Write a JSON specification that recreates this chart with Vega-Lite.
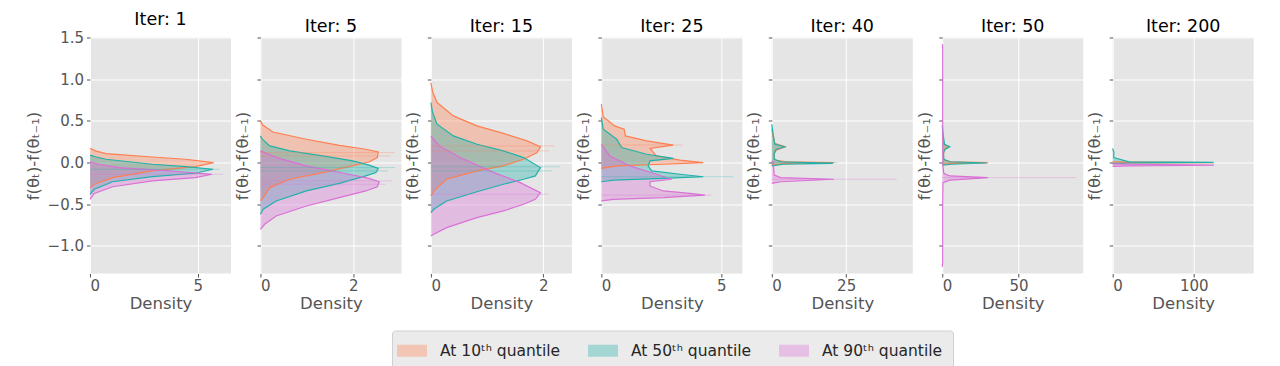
{
  "$schema": "https://vega.github.io/schema/vega-lite/v6.json",
  "padding": {"left": 25, "top": 10.5, "right": 5, "bottom": 0},
  "bounds": "flush",
  "spacing": 29.45,
  "resolve": {"scale": {"x": "independent", "y": "independent", "color": "shared"}},
  "config": {
    "font": "DejaVu Sans",
    "view": {"fill": "#E5E5E5", "stroke": null},
    "axis": {"domain": false, "gridColor": "#FFFFFF", "gridWidth": 1, "tickColor": "#555555", "tickSize": 3.5, "labelColor": "#555555", "labelFontSize": 15, "titleColor": "#555555", "titleFontWeight": "normal", "titleFontSize": 16.5, "labelPadding": 3},
    "axisY": {"titlePadding": 6},
    "axisX": {"titlePadding": 2, "labelPadding": 1.5},
    "title": {"fontSize": 17.5, "fontWeight": "normal", "color": "#000000", "offset": 2},
    "style": {"group-title": {"fontSize": 17.5, "fontWeight": "normal", "fill": "#000000"}},
    "legend": {"direction": "horizontal", "symbolType": "M-1.5,-0.6H1.5V0.6H-1.5Z", "symbolSize": 400, "symbolOpacity": 0.35, "symbolStrokeWidth": 0, "labelFontSize": 15.5, "labelColor": "#262626", "columnPadding": 27, "labelOffset": 18, "padding": 10, "fillColor": "#EBEBEB", "strokeColor": "#D0D0D0", "cornerRadius": 3}
  },
  "datasets": {
    "kde": [
      {"iter":1,"s":"q10","v":-0.30,"d":0},{"iter":1,"s":"q10","v":-0.26,"d":0.2},{"iter":1,"s":"q10","v":-0.18,"d":1.05},{"iter":1,"s":"q10","v":-0.10,"d":2.89},{"iter":1,"s":"q10","v":-0.048,"d":4.89},{"iter":1,"s":"q10","v":0.0,"d":5.74},{"iter":1,"s":"q10","v":0.04,"d":4.43},{"iter":1,"s":"q10","v":0.067,"d":2.89},{"iter":1,"s":"q10","v":0.108,"d":0.74},{"iter":1,"s":"q10","v":0.14,"d":0.25},{"iter":1,"s":"q10","v":0.171,"d":0},
      {"iter":1,"s":"q50","v":-0.38,"d":0},{"iter":1,"s":"q50","v":-0.32,"d":0.2},{"iter":1,"s":"q50","v":-0.23,"d":1.05},{"iter":1,"s":"q50","v":-0.168,"d":2.89},{"iter":1,"s":"q50","v":-0.128,"d":4.89},{"iter":1,"s":"q50","v":-0.08,"d":5.71},{"iter":1,"s":"q50","v":-0.048,"d":4.43},{"iter":1,"s":"q50","v":-0.02,"d":2.89},{"iter":1,"s":"q50","v":0.04,"d":0.74},{"iter":1,"s":"q50","v":0.07,"d":0.25},{"iter":1,"s":"q50","v":0.09,"d":0},
      {"iter":1,"s":"q90","v":-0.44,"d":0},{"iter":1,"s":"q90","v":-0.37,"d":0.2},{"iter":1,"s":"q90","v":-0.29,"d":1.05},{"iter":1,"s":"q90","v":-0.22,"d":2.89},{"iter":1,"s":"q90","v":-0.18,"d":4.89},{"iter":1,"s":"q90","v":-0.14,"d":5.66},{"iter":1,"s":"q90","v":-0.10,"d":3.66},{"iter":1,"s":"q90","v":-0.06,"d":1.35},{"iter":1,"s":"q90","v":-0.02,"d":0.4},{"iter":1,"s":"q90","v":0.01,"d":0},

      {"iter":5,"s":"q10","v":-0.46,"d":0},{"iter":5,"s":"q10","v":-0.42,"d":0.06},{"iter":5,"s":"q10","v":-0.30,"d":0.2},{"iter":5,"s":"q10","v":-0.20,"d":0.63},{"iter":5,"s":"q10","v":-0.12,"d":1.34},{"iter":5,"s":"q10","v":-0.048,"d":1.91},{"iter":5,"s":"q10","v":0.007,"d":2.34},{"iter":5,"s":"q10","v":0.06,"d":2.52},{"iter":5,"s":"q10","v":0.127,"d":2.54},{"iter":5,"s":"q10","v":0.16,"d":2.27},{"iter":5,"s":"q10","v":0.207,"d":1.7},{"iter":5,"s":"q10","v":0.28,"d":0.99},{"iter":5,"s":"q10","v":0.367,"d":0.27},{"iter":5,"s":"q10","v":0.45,"d":0.05},{"iter":5,"s":"q10","v":0.5,"d":0},
      {"iter":5,"s":"q50","v":-0.62,"d":0},{"iter":5,"s":"q50","v":-0.56,"d":0.06},{"iter":5,"s":"q50","v":-0.46,"d":0.34},{"iter":5,"s":"q50","v":-0.34,"d":0.99},{"iter":5,"s":"q50","v":-0.25,"d":1.7},{"iter":5,"s":"q50","v":-0.16,"d":2.27},{"iter":5,"s":"q50","v":-0.12,"d":2.49},{"iter":5,"s":"q50","v":-0.07,"d":2.54},{"iter":5,"s":"q50","v":-0.03,"d":2.34},{"iter":5,"s":"q50","v":0.02,"d":1.99},{"iter":5,"s":"q50","v":0.08,"d":1.34},{"iter":5,"s":"q50","v":0.14,"d":0.63},{"iter":5,"s":"q50","v":0.20,"d":0.2},{"iter":5,"s":"q50","v":0.28,"d":0.04},{"iter":5,"s":"q50","v":0.32,"d":0},
      {"iter":5,"s":"q90","v":-0.80,"d":0},{"iter":5,"s":"q90","v":-0.74,"d":0.09},{"iter":5,"s":"q90","v":-0.64,"d":0.34},{"iter":5,"s":"q90","v":-0.52,"d":0.99},{"iter":5,"s":"q90","v":-0.42,"d":1.7},{"iter":5,"s":"q90","v":-0.34,"d":2.27},{"iter":5,"s":"q90","v":-0.29,"d":2.52},{"iter":5,"s":"q90","v":-0.23,"d":2.56},{"iter":5,"s":"q90","v":-0.19,"d":2.34},{"iter":5,"s":"q90","v":-0.14,"d":1.91},{"iter":5,"s":"q90","v":-0.04,"d":0.99},{"iter":5,"s":"q90","v":0.06,"d":0.35},{"iter":5,"s":"q90","v":0.14,"d":0},

      {"iter":15,"s":"q10","v":-0.40,"d":0},{"iter":15,"s":"q10","v":-0.32,"d":0.08},{"iter":15,"s":"q10","v":-0.20,"d":0.28},{"iter":15,"s":"q10","v":-0.10,"d":0.82},{"iter":15,"s":"q10","v":-0.04,"d":1.29},{"iter":15,"s":"q10","v":0.04,"d":1.65},{"iter":15,"s":"q10","v":0.12,"d":1.89},{"iter":15,"s":"q10","v":0.19,"d":1.95},{"iter":15,"s":"q10","v":0.26,"d":1.71},{"iter":15,"s":"q10","v":0.35,"d":1.29},{"iter":15,"s":"q10","v":0.44,"d":0.82},{"iter":15,"s":"q10","v":0.56,"d":0.4},{"iter":15,"s":"q10","v":0.72,"d":0.11},{"iter":15,"s":"q10","v":0.85,"d":0.03},{"iter":15,"s":"q10","v":0.96,"d":0},
      {"iter":15,"s":"q50","v":-0.60,"d":0},{"iter":15,"s":"q50","v":-0.56,"d":0.05},{"iter":15,"s":"q50","v":-0.46,"d":0.28},{"iter":15,"s":"q50","v":-0.35,"d":0.82},{"iter":15,"s":"q50","v":-0.26,"d":1.29},{"iter":15,"s":"q50","v":-0.20,"d":1.65},{"iter":15,"s":"q50","v":-0.16,"d":1.86},{"iter":15,"s":"q50","v":-0.06,"d":1.95},{"iter":15,"s":"q50","v":0.06,"d":1.65},{"iter":15,"s":"q50","v":0.14,"d":1.29},{"iter":15,"s":"q50","v":0.22,"d":0.82},{"iter":15,"s":"q50","v":0.32,"d":0.4},{"iter":15,"s":"q50","v":0.46,"d":0.11},{"iter":15,"s":"q50","v":0.60,"d":0.03},{"iter":15,"s":"q50","v":0.72,"d":0},
      {"iter":15,"s":"q90","v":-0.88,"d":0},{"iter":15,"s":"q90","v":-0.86,"d":0.05},{"iter":15,"s":"q90","v":-0.78,"d":0.28},{"iter":15,"s":"q90","v":-0.66,"d":0.82},{"iter":15,"s":"q90","v":-0.58,"d":1.29},{"iter":15,"s":"q90","v":-0.50,"d":1.65},{"iter":15,"s":"q90","v":-0.44,"d":1.86},{"iter":15,"s":"q90","v":-0.36,"d":1.95},{"iter":15,"s":"q90","v":-0.24,"d":1.59},{"iter":15,"s":"q90","v":-0.12,"d":1.12},{"iter":15,"s":"q90","v":0.06,"d":0.52},{"iter":15,"s":"q90","v":0.20,"d":0.15},{"iter":15,"s":"q90","v":0.32,"d":0},

      {"iter":25,"s":"q10","v":-0.07,"d":0},{"iter":25,"s":"q10","v":-0.04,"d":0.64},{"iter":25,"s":"q10","v":-0.02,"d":2.58},{"iter":25,"s":"q10","v":0.0,"d":4.25},{"iter":25,"s":"q10","v":0.03,"d":3.28},{"iter":25,"s":"q10","v":0.08,"d":2.3},{"iter":25,"s":"q10","v":0.17,"d":2.03},{"iter":25,"s":"q10","v":0.21,"d":3.0},{"iter":25,"s":"q10","v":0.26,"d":1.89},{"iter":25,"s":"q10","v":0.32,"d":1.0},{"iter":25,"s":"q10","v":0.40,"d":0.95},{"iter":25,"s":"q10","v":0.44,"d":0.55},{"iter":25,"s":"q10","v":0.55,"d":0.08},{"iter":25,"s":"q10","v":0.70,"d":0},
      {"iter":25,"s":"q50","v":-0.23,"d":0},{"iter":25,"s":"q50","v":-0.21,"d":0.5},{"iter":25,"s":"q50","v":-0.19,"d":2.58},{"iter":25,"s":"q50","v":-0.17,"d":4.25},{"iter":25,"s":"q50","v":-0.14,"d":3.28},{"iter":25,"s":"q50","v":-0.10,"d":2.1},{"iter":25,"s":"q50","v":-0.04,"d":1.95},{"iter":25,"s":"q50","v":0.02,"d":2.03},{"iter":25,"s":"q50","v":0.05,"d":3.0},{"iter":25,"s":"q50","v":0.10,"d":1.89},{"iter":25,"s":"q50","v":0.18,"d":0.85},{"iter":25,"s":"q50","v":0.28,"d":0.64},{"iter":25,"s":"q50","v":0.40,"d":0.08},{"iter":25,"s":"q50","v":0.54,"d":0},
      {"iter":25,"s":"q90","v":-0.46,"d":0},{"iter":25,"s":"q90","v":-0.44,"d":0.5},{"iter":25,"s":"q90","v":-0.42,"d":2.58},{"iter":25,"s":"q90","v":-0.39,"d":4.32},{"iter":25,"s":"q90","v":-0.37,"d":3.69},{"iter":25,"s":"q90","v":-0.34,"d":2.58},{"iter":25,"s":"q90","v":-0.28,"d":2.03},{"iter":25,"s":"q90","v":-0.23,"d":2.03},{"iter":25,"s":"q90","v":-0.20,"d":2.93},{"iter":25,"s":"q90","v":-0.14,"d":2.3},{"iter":25,"s":"q90","v":-0.04,"d":1.19},{"iter":25,"s":"q90","v":0.08,"d":0.36},{"iter":25,"s":"q90","v":0.22,"d":0},

      {"iter":40,"s":"q10","v":-0.03,"d":0},{"iter":40,"s":"q10","v":-0.01,"d":5},{"iter":40,"s":"q10","v":0.0,"d":20.9},{"iter":40,"s":"q10","v":0.01,"d":5},{"iter":40,"s":"q10","v":0.03,"d":1.0},{"iter":40,"s":"q10","v":0.10,"d":0.8},{"iter":40,"s":"q10","v":0.15,"d":1.5},{"iter":40,"s":"q10","v":0.19,"d":4.5},{"iter":40,"s":"q10","v":0.23,"d":1.0},{"iter":40,"s":"q10","v":0.35,"d":0.3},{"iter":40,"s":"q10","v":0.40,"d":0},
      {"iter":40,"s":"q50","v":-0.04,"d":0},{"iter":40,"s":"q50","v":-0.02,"d":4},{"iter":40,"s":"q50","v":-0.01,"d":20.5},{"iter":40,"s":"q50","v":0.01,"d":3},{"iter":40,"s":"q50","v":0.04,"d":0.8},{"iter":40,"s":"q50","v":0.12,"d":0.8},{"iter":40,"s":"q50","v":0.16,"d":1.5},{"iter":40,"s":"q50","v":0.19,"d":4.6},{"iter":40,"s":"q50","v":0.22,"d":1.0},{"iter":40,"s":"q50","v":0.35,"d":0.4},{"iter":40,"s":"q50","v":0.46,"d":0},
      {"iter":40,"s":"q90","v":-0.25,"d":0},{"iter":40,"s":"q90","v":-0.23,"d":3},{"iter":40,"s":"q90","v":-0.20,"d":20.9},{"iter":40,"s":"q90","v":-0.18,"d":3},{"iter":40,"s":"q90","v":-0.15,"d":0.8},{"iter":40,"s":"q90","v":-0.05,"d":0.6},{"iter":40,"s":"q90","v":0.0,"d":0.5},{"iter":40,"s":"q90","v":0.02,"d":0},

      {"iter":50,"s":"q10","v":-0.02,"d":0},{"iter":50,"s":"q10","v":-0.01,"d":6},{"iter":50,"s":"q10","v":0.0,"d":30},{"iter":50,"s":"q10","v":0.01,"d":6},{"iter":50,"s":"q10","v":0.03,"d":1},{"iter":50,"s":"q10","v":0.10,"d":0.8},{"iter":50,"s":"q10","v":0.16,"d":1.5},{"iter":50,"s":"q10","v":0.19,"d":4},{"iter":50,"s":"q10","v":0.22,"d":1},{"iter":50,"s":"q10","v":0.30,"d":0},
      {"iter":50,"s":"q50","v":-0.03,"d":0},{"iter":50,"s":"q50","v":-0.02,"d":6},{"iter":50,"s":"q50","v":-0.005,"d":29},{"iter":50,"s":"q50","v":0.01,"d":5},{"iter":50,"s":"q50","v":0.04,"d":1},{"iter":50,"s":"q50","v":0.12,"d":0.8},{"iter":50,"s":"q50","v":0.16,"d":2},{"iter":50,"s":"q50","v":0.19,"d":5},{"iter":50,"s":"q50","v":0.22,"d":1.5},{"iter":50,"s":"q50","v":0.35,"d":0.5},{"iter":50,"s":"q50","v":0.45,"d":0},
      {"iter":50,"s":"q90","v":-1.25,"d":0},{"iter":50,"s":"q90","v":-1.2,"d":0.3},{"iter":50,"s":"q90","v":-0.5,"d":0.3},{"iter":50,"s":"q90","v":-0.24,"d":0.5},{"iter":50,"s":"q90","v":-0.21,"d":5},{"iter":50,"s":"q90","v":-0.18,"d":30},{"iter":50,"s":"q90","v":-0.16,"d":5},{"iter":50,"s":"q90","v":-0.13,"d":1},{"iter":50,"s":"q90","v":-0.05,"d":0.5},{"iter":50,"s":"q90","v":0.5,"d":0.3},{"iter":50,"s":"q90","v":1.4,"d":0.3},{"iter":50,"s":"q90","v":1.42,"d":0},

      {"iter":200,"s":"q10","v":-0.01,"d":0},{"iter":200,"s":"q10","v":-0.005,"d":20},{"iter":200,"s":"q10","v":0.0,"d":124.6},{"iter":200,"s":"q10","v":0.005,"d":20},{"iter":200,"s":"q10","v":0.01,"d":0},
      {"iter":200,"s":"q50","v":-0.012,"d":0},{"iter":200,"s":"q50","v":-0.005,"d":20},{"iter":200,"s":"q50","v":0.002,"d":124},{"iter":200,"s":"q50","v":0.008,"d":20},{"iter":200,"s":"q50","v":0.06,"d":1.2},{"iter":200,"s":"q50","v":0.12,"d":1.5},{"iter":200,"s":"q50","v":0.17,"d":0},
      {"iter":200,"s":"q90","v":-0.045,"d":0},{"iter":200,"s":"q90","v":-0.04,"d":20},{"iter":200,"s":"q90","v":-0.03,"d":124.6},{"iter":200,"s":"q90","v":-0.02,"d":20},{"iter":200,"s":"q90","v":-0.015,"d":0}
    ],
    "spikes": [
      {"iter":1,"s":"q90","v":-0.14,"d":6.2},{"iter":1,"s":"q50","v":-0.08,"d":6.0},
      {"iter":5,"s":"q10","v":0.12,"d":2.9},{"iter":5,"s":"q10","v":0.08,"d":2.8},{"iter":5,"s":"q50","v":-0.06,"d":2.9},{"iter":5,"s":"q50","v":-0.10,"d":2.75},{"iter":5,"s":"q90","v":-0.22,"d":2.85},{"iter":5,"s":"q90","v":-0.26,"d":2.7},
      {"iter":15,"s":"q10","v":0.2,"d":2.2},{"iter":15,"s":"q10","v":0.14,"d":2.1},{"iter":15,"s":"q50","v":-0.05,"d":2.3},{"iter":15,"s":"q50","v":-0.1,"d":2.15},{"iter":15,"s":"q90","v":-0.38,"d":2.1},
      {"iter":25,"s":"q50","v":-0.17,"d":5.5},{"iter":25,"s":"q10","v":0.21,"d":3.4},{"iter":25,"s":"q90","v":-0.39,"d":4.6},
      {"iter":40,"s":"q90","v":-0.2,"d":42},{"iter":40,"s":"q50","v":0.0,"d":22},
      {"iter":50,"s":"q90","v":-0.18,"d":88}
    ],
    "zero": [{"v": 0}]
  },
  "hconcat": [
    {"width": 141, "height": 236, "title": {"text": "Iter: 1", "fontSize": 17.5, "fontWeight": "normal", "color": "#000000", "offset": 2},
     "encoding": {
       "y": {"field": "v", "type": "quantitative", "scale": {"domain": [-1.33, 1.5], "nice": false, "zero": false}, "axis": {"values": [-1, -0.5, 0, 0.5, 1, 1.5], "format": ".1f", "title": "f(θₜ)-f(θₜ₋₁)"}},
       "x": {"field": "d", "type": "quantitative", "stack": null, "scale": {"domain": [0, 6.54], "nice": false}, "axis": {"values": [0, 5], "format": "d", "title": "Density"}},
       "color": {"field": "s", "type": "nominal", "title": null, "scale": {"domain": ["q10", "q50", "q90"], "range": ["#FF7F50", "#20B2AA", "#DA70D6"]}, "legend": {"orient": "none", "legendX": 302, "legendY": 293, "direction": "horizontal", "labelExpr": "datum.label == 'q10' ? 'At 10ᵗʰ quantile' : datum.label == 'q50' ? 'At 50ᵗʰ quantile' : 'At 90ᵗʰ quantile'"}}
     },
     "layer": [
      {"data": {"name": "kde"}, "transform": [{"filter": "datum.iter == 1"}], "mark": {"type": "area", "orient": "horizontal", "opacity": 0.35}},
      {"data": {"name": "kde"}, "transform": [{"filter": "datum.iter == 1"}], "mark": {"type": "line", "strokeWidth": 1.2, "orient": "horizontal"}, "encoding": {"order": {"field": "v", "type": "quantitative"}}},
      {"data": {"name": "spikes"}, "transform": [{"filter": "datum.iter == 1"}], "mark": {"type": "rule", "strokeWidth": 1, "opacity": 0.3}, "encoding": {"x2": {"datum": 0}}},
      {"data": {"name": "zero"}, "mark": {"type": "rule", "strokeWidth": 1.3}, "encoding": {"x": {"datum": 0}, "x2": {"datum": 6.54}, "color": {"value": "#D81B1B"}}}
    ]},
    {"width": 141, "height": 236, "title": {"text": "Iter: 5", "fontSize": 17.5, "fontWeight": "normal", "color": "#000000", "offset": 2},
     "encoding": {
       "y": {"field": "v", "type": "quantitative", "scale": {"domain": [-1.33, 1.5], "nice": false, "zero": false}, "axis": {"values": [-1, -0.5, 0, 0.5, 1, 1.5], "labels": false, "title": "f(θₜ)-f(θₜ₋₁)"}},
       "x": {"field": "d", "type": "quantitative", "stack": null, "scale": {"domain": [0, 3.04], "nice": false}, "axis": {"values": [0, 2], "format": "d", "title": "Density"}},
       "color": {"field": "s", "type": "nominal", "title": null, "scale": {"domain": ["q10", "q50", "q90"], "range": ["#FF7F50", "#20B2AA", "#DA70D6"]}, "legend": {"orient": "none", "legendX": 302, "legendY": 293, "direction": "horizontal", "labelExpr": "datum.label == 'q10' ? 'At 10ᵗʰ quantile' : datum.label == 'q50' ? 'At 50ᵗʰ quantile' : 'At 90ᵗʰ quantile'"}}
     },
     "layer": [
      {"data": {"name": "kde"}, "transform": [{"filter": "datum.iter == 5"}], "mark": {"type": "area", "orient": "horizontal", "opacity": 0.35}},
      {"data": {"name": "kde"}, "transform": [{"filter": "datum.iter == 5"}], "mark": {"type": "line", "strokeWidth": 1.2, "orient": "horizontal"}, "encoding": {"order": {"field": "v", "type": "quantitative"}}},
      {"data": {"name": "spikes"}, "transform": [{"filter": "datum.iter == 5"}], "mark": {"type": "rule", "strokeWidth": 1, "opacity": 0.3}, "encoding": {"x2": {"datum": 0}}},
      {"data": {"name": "zero"}, "mark": {"type": "rule", "strokeWidth": 1.3}, "encoding": {"x": {"datum": 0}, "x2": {"datum": 3.04}, "color": {"value": "#D81B1B"}}}
    ]},
    {"width": 141, "height": 236, "title": {"text": "Iter: 15", "fontSize": 17.5, "fontWeight": "normal", "color": "#000000", "offset": 2},
     "encoding": {
       "y": {"field": "v", "type": "quantitative", "scale": {"domain": [-1.33, 1.5], "nice": false, "zero": false}, "axis": {"values": [-1, -0.5, 0, 0.5, 1, 1.5], "labels": false, "title": "f(θₜ)-f(θₜ₋₁)"}},
       "x": {"field": "d", "type": "quantitative", "stack": null, "scale": {"domain": [0, 2.51], "nice": false}, "axis": {"values": [0, 2], "format": "d", "title": "Density"}},
       "color": {"field": "s", "type": "nominal", "title": null, "scale": {"domain": ["q10", "q50", "q90"], "range": ["#FF7F50", "#20B2AA", "#DA70D6"]}, "legend": {"orient": "none", "legendX": 302, "legendY": 293, "direction": "horizontal", "labelExpr": "datum.label == 'q10' ? 'At 10ᵗʰ quantile' : datum.label == 'q50' ? 'At 50ᵗʰ quantile' : 'At 90ᵗʰ quantile'"}}
     },
     "layer": [
      {"data": {"name": "kde"}, "transform": [{"filter": "datum.iter == 15"}], "mark": {"type": "area", "orient": "horizontal", "opacity": 0.35}},
      {"data": {"name": "kde"}, "transform": [{"filter": "datum.iter == 15"}], "mark": {"type": "line", "strokeWidth": 1.2, "orient": "horizontal"}, "encoding": {"order": {"field": "v", "type": "quantitative"}}},
      {"data": {"name": "spikes"}, "transform": [{"filter": "datum.iter == 15"}], "mark": {"type": "rule", "strokeWidth": 1, "opacity": 0.3}, "encoding": {"x2": {"datum": 0}}},
      {"data": {"name": "zero"}, "mark": {"type": "rule", "strokeWidth": 1.3}, "encoding": {"x": {"datum": 0}, "x2": {"datum": 2.51}, "color": {"value": "#D81B1B"}}}
    ]},
    {"width": 141, "height": 236, "title": {"text": "Iter: 25", "fontSize": 17.5, "fontWeight": "normal", "color": "#000000", "offset": 2},
     "encoding": {
       "y": {"field": "v", "type": "quantitative", "scale": {"domain": [-1.33, 1.5], "nice": false, "zero": false}, "axis": {"values": [-1, -0.5, 0, 0.5, 1, 1.5], "labels": false, "title": "f(θₜ)-f(θₜ₋₁)"}},
       "x": {"field": "d", "type": "quantitative", "stack": null, "scale": {"domain": [0, 5.88], "nice": false}, "axis": {"values": [0, 5], "format": "d", "title": "Density"}},
       "color": {"field": "s", "type": "nominal", "title": null, "scale": {"domain": ["q10", "q50", "q90"], "range": ["#FF7F50", "#20B2AA", "#DA70D6"]}, "legend": {"orient": "none", "legendX": 302, "legendY": 293, "direction": "horizontal", "labelExpr": "datum.label == 'q10' ? 'At 10ᵗʰ quantile' : datum.label == 'q50' ? 'At 50ᵗʰ quantile' : 'At 90ᵗʰ quantile'"}}
     },
     "layer": [
      {"data": {"name": "kde"}, "transform": [{"filter": "datum.iter == 25"}], "mark": {"type": "area", "orient": "horizontal", "opacity": 0.35}},
      {"data": {"name": "kde"}, "transform": [{"filter": "datum.iter == 25"}], "mark": {"type": "line", "strokeWidth": 1.2, "orient": "horizontal"}, "encoding": {"order": {"field": "v", "type": "quantitative"}}},
      {"data": {"name": "spikes"}, "transform": [{"filter": "datum.iter == 25"}], "mark": {"type": "rule", "strokeWidth": 1, "opacity": 0.3}, "encoding": {"x2": {"datum": 0}}},
      {"data": {"name": "zero"}, "mark": {"type": "rule", "strokeWidth": 1.3}, "encoding": {"x": {"datum": 0}, "x2": {"datum": 5.88}, "color": {"value": "#D81B1B"}}}
    ]},
    {"width": 141, "height": 236, "title": {"text": "Iter: 40", "fontSize": 17.5, "fontWeight": "normal", "color": "#000000", "offset": 2},
     "encoding": {
       "y": {"field": "v", "type": "quantitative", "scale": {"domain": [-1.33, 1.5], "nice": false, "zero": false}, "axis": {"values": [-1, -0.5, 0, 0.5, 1, 1.5], "labels": false, "title": "f(θₜ)-f(θₜ₋₁)"}},
       "x": {"field": "d", "type": "quantitative", "stack": null, "scale": {"domain": [0, 47.4], "nice": false}, "axis": {"values": [0, 25], "format": "d", "title": "Density"}},
       "color": {"field": "s", "type": "nominal", "title": null, "scale": {"domain": ["q10", "q50", "q90"], "range": ["#FF7F50", "#20B2AA", "#DA70D6"]}, "legend": {"orient": "none", "legendX": 302, "legendY": 293, "direction": "horizontal", "labelExpr": "datum.label == 'q10' ? 'At 10ᵗʰ quantile' : datum.label == 'q50' ? 'At 50ᵗʰ quantile' : 'At 90ᵗʰ quantile'"}}
     },
     "layer": [
      {"data": {"name": "kde"}, "transform": [{"filter": "datum.iter == 40"}], "mark": {"type": "area", "orient": "horizontal", "opacity": 0.35}},
      {"data": {"name": "kde"}, "transform": [{"filter": "datum.iter == 40"}], "mark": {"type": "line", "strokeWidth": 1.2, "orient": "horizontal"}, "encoding": {"order": {"field": "v", "type": "quantitative"}}},
      {"data": {"name": "spikes"}, "transform": [{"filter": "datum.iter == 40"}], "mark": {"type": "rule", "strokeWidth": 1, "opacity": 0.3}, "encoding": {"x2": {"datum": 0}}},
      {"data": {"name": "zero"}, "mark": {"type": "rule", "strokeWidth": 1.3}, "encoding": {"x": {"datum": 0}, "x2": {"datum": 47.4}, "color": {"value": "#D81B1B"}}}
    ]},
    {"width": 141, "height": 236, "title": {"text": "Iter: 50", "fontSize": 17.5, "fontWeight": "normal", "color": "#000000", "offset": 2},
     "encoding": {
       "y": {"field": "v", "type": "quantitative", "scale": {"domain": [-1.33, 1.5], "nice": false, "zero": false}, "axis": {"values": [-1, -0.5, 0, 0.5, 1, 1.5], "labels": false, "title": "f(θₜ)-f(θₜ₋₁)"}},
       "x": {"field": "d", "type": "quantitative", "stack": null, "scale": {"domain": [0, 92.5], "nice": false}, "axis": {"values": [0, 50], "format": "d", "title": "Density"}},
       "color": {"field": "s", "type": "nominal", "title": null, "scale": {"domain": ["q10", "q50", "q90"], "range": ["#FF7F50", "#20B2AA", "#DA70D6"]}, "legend": {"orient": "none", "legendX": 302, "legendY": 293, "direction": "horizontal", "labelExpr": "datum.label == 'q10' ? 'At 10ᵗʰ quantile' : datum.label == 'q50' ? 'At 50ᵗʰ quantile' : 'At 90ᵗʰ quantile'"}}
     },
     "layer": [
      {"data": {"name": "kde"}, "transform": [{"filter": "datum.iter == 50"}], "mark": {"type": "area", "orient": "horizontal", "opacity": 0.35}},
      {"data": {"name": "kde"}, "transform": [{"filter": "datum.iter == 50"}], "mark": {"type": "line", "strokeWidth": 1.2, "orient": "horizontal"}, "encoding": {"order": {"field": "v", "type": "quantitative"}}},
      {"data": {"name": "spikes"}, "transform": [{"filter": "datum.iter == 50"}], "mark": {"type": "rule", "strokeWidth": 1, "opacity": 0.3}, "encoding": {"x2": {"datum": 0}}},
      {"data": {"name": "zero"}, "mark": {"type": "rule", "strokeWidth": 1.3}, "encoding": {"x": {"datum": 0}, "x2": {"datum": 92.5}, "color": {"value": "#D81B1B"}}}
    ]},
    {"width": 141, "height": 236, "title": {"text": "Iter: 200", "fontSize": 17.5, "fontWeight": "normal", "color": "#000000", "offset": 2},
     "encoding": {
       "y": {"field": "v", "type": "quantitative", "scale": {"domain": [-1.33, 1.5], "nice": false, "zero": false}, "axis": {"values": [-1, -0.5, 0, 0.5, 1, 1.5], "labels": false, "title": "f(θₜ)-f(θₜ₋₁)"}},
       "x": {"field": "d", "type": "quantitative", "stack": null, "scale": {"domain": [0, 173.8], "nice": false}, "axis": {"values": [0, 100], "format": "d", "title": "Density"}},
       "color": {"field": "s", "type": "nominal", "title": null, "scale": {"domain": ["q10", "q50", "q90"], "range": ["#FF7F50", "#20B2AA", "#DA70D6"]}, "legend": {"orient": "none", "legendX": 302, "legendY": 293, "direction": "horizontal", "labelExpr": "datum.label == 'q10' ? 'At 10ᵗʰ quantile' : datum.label == 'q50' ? 'At 50ᵗʰ quantile' : 'At 90ᵗʰ quantile'"}}
     },
     "layer": [
      {"data": {"name": "kde"}, "transform": [{"filter": "datum.iter == 200"}], "mark": {"type": "area", "orient": "horizontal", "opacity": 0.35}},
      {"data": {"name": "kde"}, "transform": [{"filter": "datum.iter == 200"}], "mark": {"type": "line", "strokeWidth": 1.2, "orient": "horizontal"}, "encoding": {"order": {"field": "v", "type": "quantitative"}}},
      {"data": {"name": "zero"}, "mark": {"type": "rule", "strokeWidth": 1.3}, "encoding": {"x": {"datum": 0}, "x2": {"datum": 173.8}, "color": {"value": "#D81B1B"}}}
    ]}
  ]
}
